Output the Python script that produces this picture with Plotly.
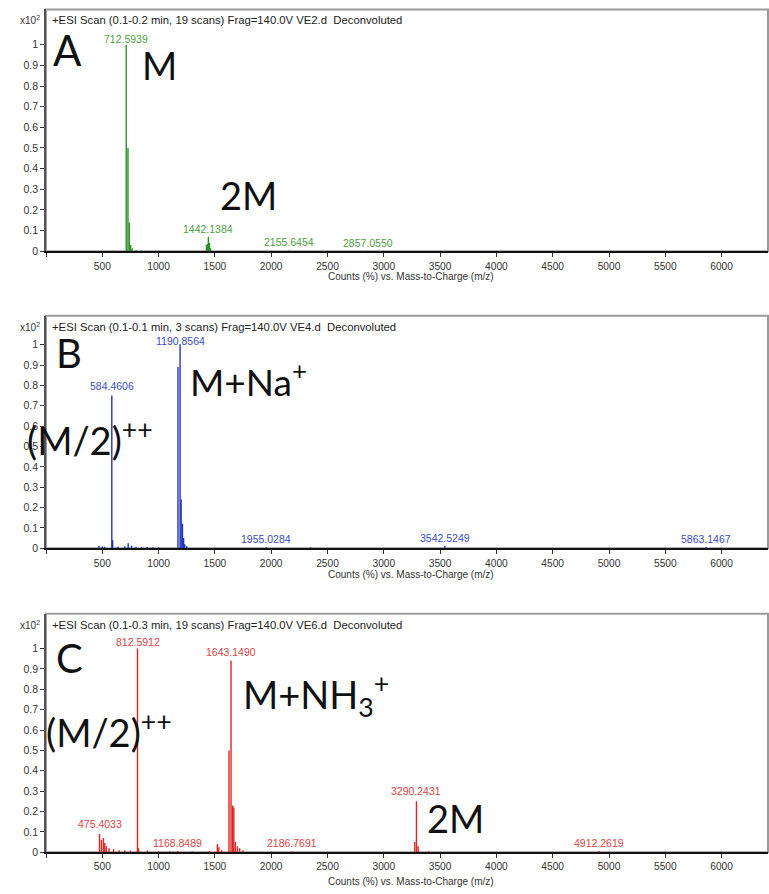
import plotly.graph_objects as go

W, H = 769, 894

# ---------------- data ----------------
A_mz  = [600, 712.5939, 728, 740, 752, 765, 800, 850, 1000, 1425, 1435, 1442.1384, 1452, 1462, 2155.6454, 2857.0550]
A_int = [0.003, 1.0, 0.5, 0.14, 0.03, 0.015, 0.006, 0.004, 0.003, 0.03, 0.035, 0.07, 0.04, 0.015, 0.004, 0.003]
A_lab_mz  = [712.5939, 1442.1384, 2155.6454, 2857.0550]
A_lab_int = [1.0, 0.07, 0.004, 0.003]
A_lab_txt = ["712.5939", "1442.1384", "2155.6454", "2857.0550"]

B_mz  = [470, 500, 520, 584.4606, 592, 640, 700, 730, 760, 800, 850, 900, 950, 1000, 1172, 1190.8564,
         1200, 1212, 1222, 1232, 1250, 1955.0284, 2350, 3542.5249, 5863.1467]
B_int = [0.012, 0.01, 0.008, 0.75, 0.04, 0.008, 0.01, 0.025, 0.012, 0.008, 0.006, 0.006, 0.005, 0.005, 0.89, 1.0,
         0.24, 0.12, 0.05, 0.02, 0.01, 0.005, 0.005, 0.012, 0.006]
B_lab_mz  = [584.4606, 1190.8564, 1955.0284, 3542.5249, 5863.1467]
B_lab_int = [0.75, 1.0, 0.005, 0.012, 0.006]
B_lab_txt = ["584.4606", "1190.8564", "1955.0284", "3542.5249", "5863.1467"]

C_mz  = [475.4033, 492, 510, 522, 535, 560, 600, 650, 700, 750, 812.5912, 822, 900, 1000, 1100, 1168.8489,
         1300, 1450, 1522, 1535, 1560, 1625, 1643.1490, 1657, 1668, 1682, 1700, 1720, 1750, 2000, 2186.7691,
         3275, 3290.2431, 3305, 3400, 4912.2619]
C_int = [0.09, 0.06, 0.07, 0.045, 0.03, 0.02, 0.015, 0.01, 0.01, 0.008, 1.0, 0.02, 0.008, 0.005, 0.005, 0.006,
         0.004, 0.006, 0.04, 0.025, 0.01, 0.5, 0.94, 0.23, 0.22, 0.05, 0.03, 0.02, 0.01, 0.004, 0.005,
         0.05, 0.25, 0.03, 0.005, 0.006]
C_lab_mz  = [475.4033, 812.5912, 1168.8489, 1643.1490, 2186.7691, 3290.2431, 4912.2619]
C_lab_int = [0.09, 1.0, 0.006, 0.94, 0.005, 0.25, 0.006]
C_lab_txt = ["475.4033", "812.5912", "1168.8489", "1643.1490", "2186.7691", "3290.2431", "4912.2619"]

headers = ["+ESI Scan (0.1-0.2 min, 19 scans) Frag=140.0V VE2.d  Deconvoluted",
           "+ESI Scan (0.1-0.1 min, 3 scans) Frag=140.0V VE4.d  Deconvoluted",
           "+ESI Scan (0.1-0.3 min, 19 scans) Frag=140.0V VE6.d  Deconvoluted"]

x_ticks = [0, 500, 1000, 1500, 2000, 2500, 3000, 3500, 4000, 4500, 5000, 5500, 6000]
x_ticktext = [""] + [str(v) for v in x_ticks[1:]]
y_ticks = [0, 0.1, 0.2, 0.3, 0.4, 0.5, 0.6, 0.7, 0.8, 0.9, 1.0]
y_ticktext = ["0", "0.1", "0.2", "0.3", "0.4", "0.5", "0.6", "0.7", "0.8", "0.9", "1"]

# big labels: (text, mz, intensity, size)
A_big = [("A", 195, 0.975, 42), ("M", 1012, 0.90, 38), ("2M", 1794, 0.274, 38)]
B_big = [("B", 204, 0.96, 40), ("M+Na<sup>+</sup>", 1800, 0.83, 37), ("(M/2)<sup>++</sup>", 390, 0.54, 38)]
C_big = [("C", 213, 0.955, 40), ("M+NH<sub>3</sub><sup>+</sup>", 2400, 0.77, 38),
         ("(M/2)<sup>++</sup>", 560, 0.60, 38), ("2M", 3641, 0.166, 38)]

# ---------------- layout helpers ----------------
def fx(px):
    return px / W

def fy(py):
    return 1 - py / H

X_LEFT, X_RIGHT = 46, 768
PX_PER_MZ = 56.3 / 500
x_max = (X_RIGHT - X_LEFT) / PX_PER_MZ

panels = [
    dict(mz=A_mz, it=A_int, lmz=A_lab_mz, lint=A_lab_int, ltxt=A_lab_txt, big=A_big,
         lshift=[-2, 0, 0, 0],
         line="#2f8f2f", lab="#4f9f3f", top=9.5, bottom=253, ppu=208, title_y=278),
    dict(mz=B_mz, it=B_int, lmz=B_lab_mz, lint=B_lab_int, ltxt=B_lab_txt, big=B_big,
         lshift=[2, -4, 0, 0, 0],
         line="#2233bb", lab="#3a4cc8", top=318, bottom=552, ppu=205, title_y=578),
    dict(mz=C_mz, it=C_int, lmz=C_lab_mz, lint=C_lab_int, ltxt=C_lab_txt, big=C_big,
         lshift=[2, -1, 0, 1, 0, 2, 0],
         line="#e02424", lab="#e04444", top=618, bottom=858, ppu=205, title_y=887),
]

fig = go.Figure()
annotations = []
shapes = []
FONT = "Liberation Sans, Arial, sans-serif"
xtick_font = dict(family=FONT, size=10.2, color="#333333")
ytick_font = dict(family=FONT, size=10.5, color="#333333")

for i, p in enumerate(panels):
    n = "" if i == 0 else str(i + 1)
    xa, ya = "x" + n, "y" + n
    xs, ys = [], []
    for m, v in zip(p["mz"], p["it"]):
        xs += [m, m, None]
        ys += [0, v, None]
    fig.add_trace(go.Scatter(x=xs, y=ys, mode="lines", line=dict(color=p["line"], width=1.4),
                             xaxis=xa, yaxis=ya, showlegend=False, hoverinfo="skip"))
    ymax = (p["bottom"] - p["top"]) / p["ppu"]
    fig.layout["xaxis" + n] = dict(domain=[fx(X_LEFT), fx(X_RIGHT)], range=[0, x_max], anchor=ya,
                                   tickvals=x_ticks, ticktext=x_ticktext, ticks="outside", ticklen=4,
                                   tickcolor="#333", showline=True, linecolor="#111", linewidth=2,
                                   showgrid=False, zeroline=False, tickfont=xtick_font, fixedrange=True)
    fig.layout["yaxis" + n] = dict(domain=[fy(p["bottom"]), fy(p["top"])], range=[0, ymax], anchor=xa,
                                   tickvals=y_ticks, ticktext=y_ticktext, ticks="outside", ticklen=4,
                                   tickcolor="#333", showline=True, linecolor="#555", linewidth=1.5,
                                   showgrid=False, zeroline=False, tickfont=ytick_font, fixedrange=True)
    # frame box
    shapes.append(dict(type="rect", xref=xa + " domain", yref=ya + " domain", x0=0, x1=1, y0=0, y1=1,
                       line=dict(color="#9a9a9a", width=2), layer="below"))
    # header
    annotations.append(dict(text=headers[i], x=fx(50), y=fy(p["top"] + 11), xref="paper", yref="paper",
                            xanchor="left", yanchor="middle", showarrow=False,
                            font=dict(family=FONT, size=11.3, color="#222")))
    annotations.append(dict(text="x10<sup>2</sup>", x=fx(42), y=fy(p["top"] + 11), xref="paper", yref="paper",
                            xanchor="right", yanchor="middle", showarrow=False,
                            font=dict(family=FONT, size=10, color="#333")))
    # x title
    annotations.append(dict(text="Counts (%) vs. Mass-to-Charge (m/z)", x=fx(411), y=fy(p["title_y"]),
                            xref="paper", yref="paper", xanchor="center", yanchor="middle", showarrow=False,
                            font=dict(family=FONT, size=10, color="#333")))
    # peak labels
    for m, v, t, s in zip(p["lmz"], p["lint"], p["ltxt"], p["lshift"]):
        annotations.append(dict(text=t, x=m, y=v, xref=xa, yref=ya, xanchor="center", yanchor="bottom",
                                yshift=s, showarrow=False,
                                font=dict(family=FONT, size=10.5, color=p["lab"])))
    # big black labels
    for t, m, v, s in p["big"]:
        annotations.append(dict(text=t, x=m, y=v, xref=xa, yref=ya, xanchor="center", yanchor="middle",
                                showarrow=False, font=dict(family="Lato, Open Sans, sans-serif", size=s, color="#111")))

fig.update_layout(width=W, height=H, margin=dict(l=0, r=0, t=0, b=0), paper_bgcolor="white",
                  plot_bgcolor="white", annotations=annotations, shapes=shapes, showlegend=False)

fig.write_html("out.html", config={"displayModeBar": False},
               post_script="document.body.style.margin='0px';document.body.style.overflow='hidden';")
